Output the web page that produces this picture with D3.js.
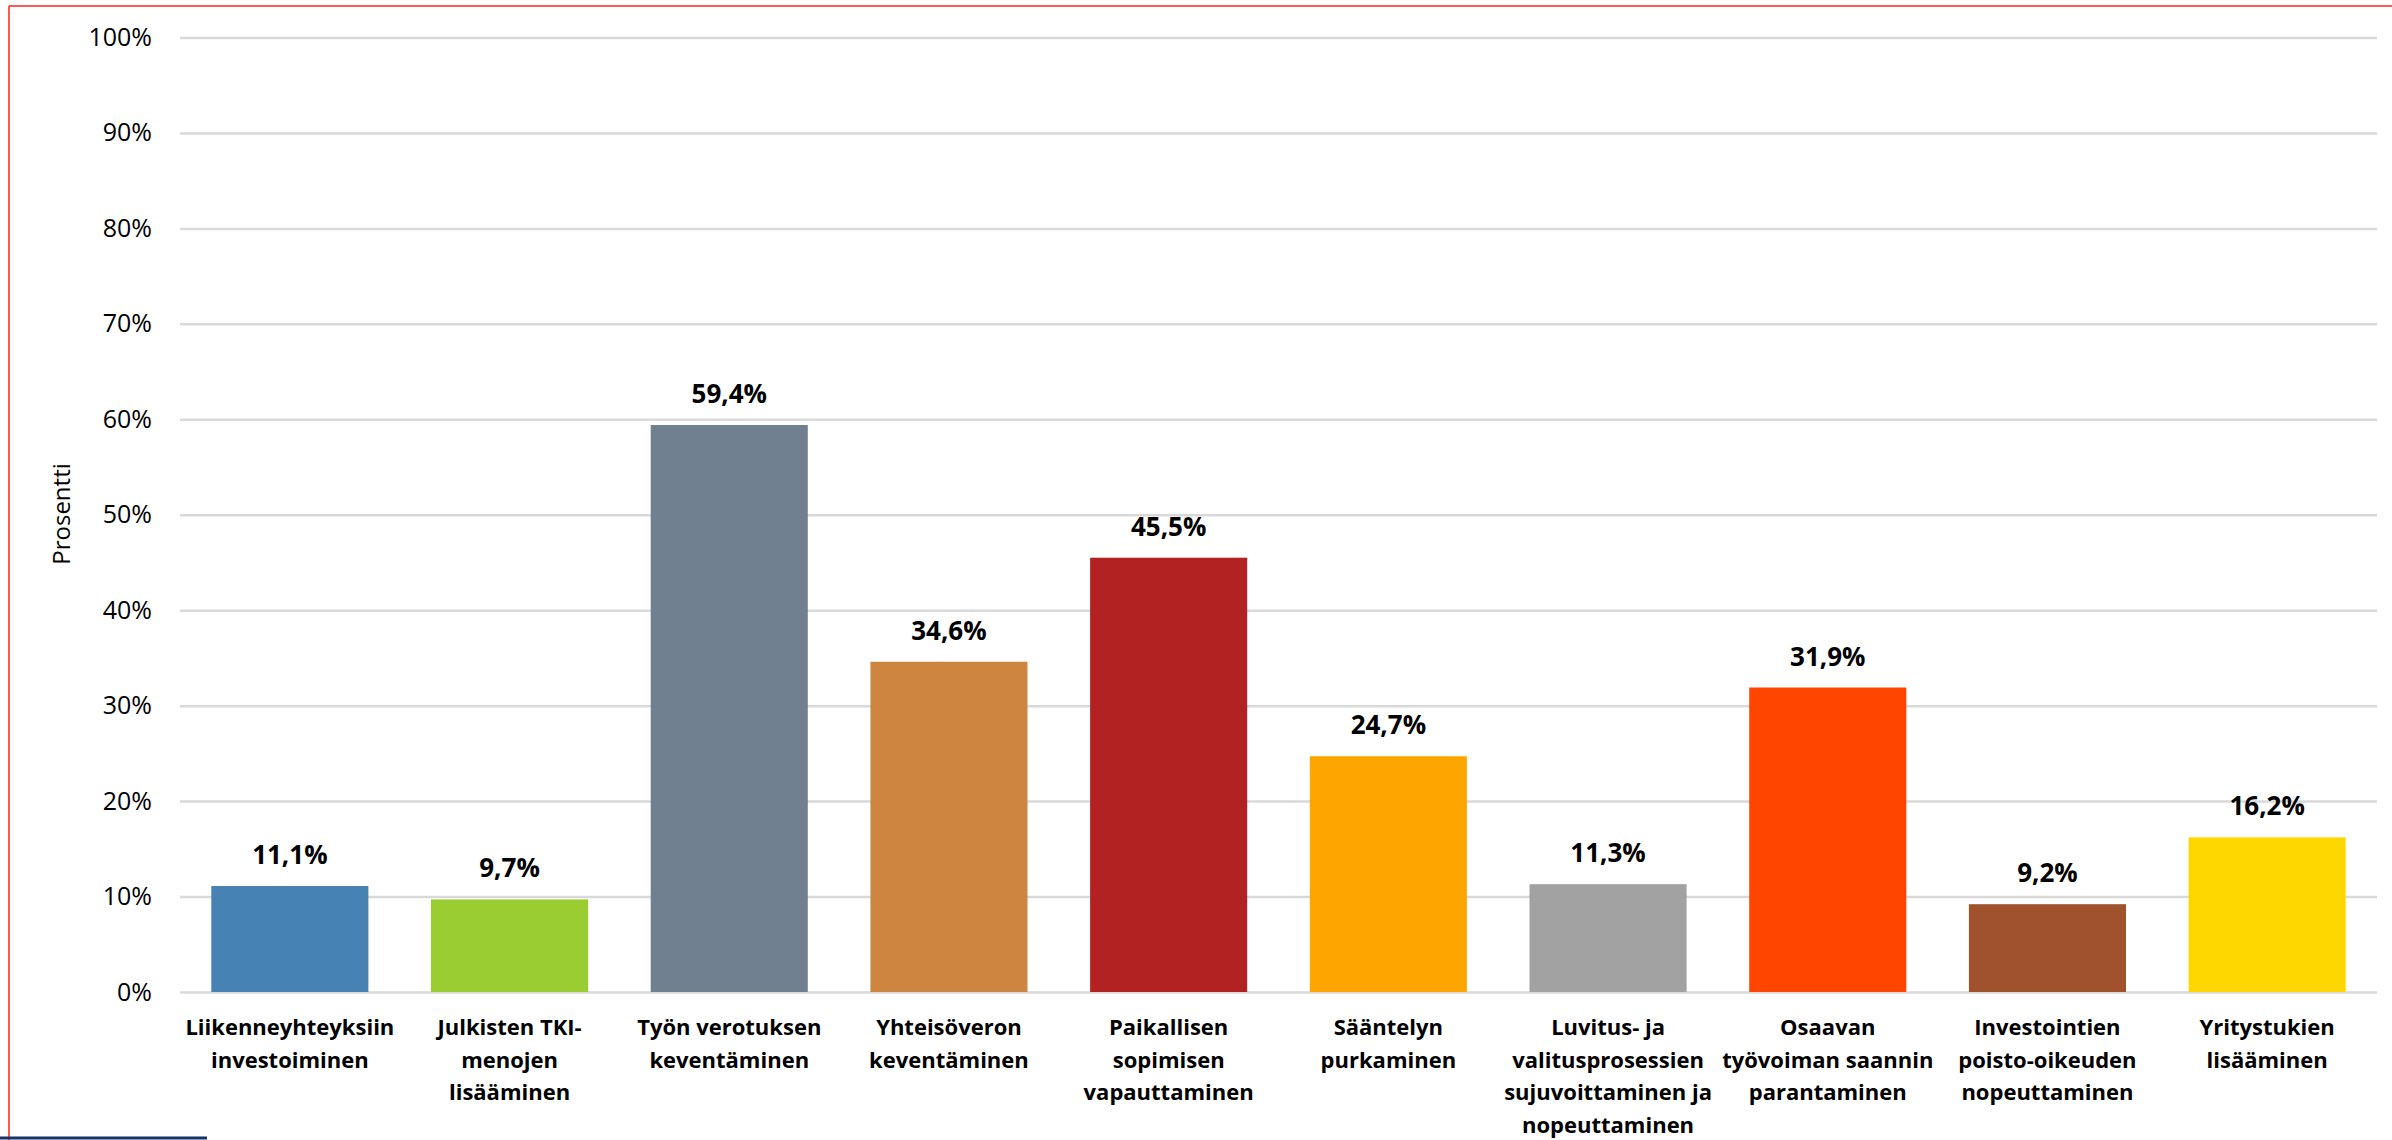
<!DOCTYPE html>
<html lang="fi">
<head>
    <meta charset="UTF-8">
    <title>Prosentti</title>
    <script src="https://cdn.jsdelivr.net/npm/d3@7"></script>
    <style>
        body { margin: 0; background: #fff; }
        svg { display: block; font-family: "Open Sans", sans-serif; }
    </style>
</head>
<body>
    <div id="chart"></div>
    <script>
        // data
        const categories = [
            "Liikenneyhteyksiin investoiminen",
            "Julkisten TKI-menojen lisääminen",
            "Työn verotuksen keventäminen",
            "Yhteisöveron keventäminen",
            "Paikallisen sopimisen vapauttaminen",
            "Sääntelyn purkaminen",
            "Luvitus- ja valitusprosessien sujuvoittaminen ja nopeuttaminen",
            "Osaavan työvoiman saannin parantaminen",
            "Investointien poisto-oikeuden nopeuttaminen",
            "Yritystukien lisääminen"
        ];
        // line breaks of the category labels
        const categoryLines = [
            ["Liikenneyhteyksiin", "investoiminen"],
            ["Julkisten TKI-", "menojen", "lisääminen"],
            ["Työn verotuksen", "keventäminen"],
            ["Yhteisöveron", "keventäminen"],
            ["Paikallisen", "sopimisen", "vapauttaminen"],
            ["Sääntelyn", "purkaminen"],
            ["Luvitus- ja", "valitusprosessien", "sujuvoittaminen ja", "nopeuttaminen"],
            ["Osaavan", "työvoiman saannin", "parantaminen"],
            ["Investointien", "poisto-oikeuden", "nopeuttaminen"],
            ["Yritystukien", "lisääminen"]
        ];
        const values = [11.1, 9.7, 59.4, 34.6, 45.5, 24.7, 11.3, 31.9, 9.2, 16.2];
        const valueLabels = ["11,1%", "9,7%", "59,4%", "34,6%", "45,5%", "24,7%", "11,3%", "31,9%", "9,2%", "16,2%"];
        const colors = ["#4682B4", "#9ACD32", "#708090", "#CD853F", "#B22222",
                        "#FFA500", "#A2A2A2", "#FF4500", "#A0522D", "#FFD700"];
        const yTicks = [0, 10, 20, 30, 40, 50, 60, 70, 80, 90, 100];
        const yTickLabels = ["0%", "10%", "20%", "30%", "40%", "50%", "60%", "70%", "80%", "90%", "100%"];

        const W = 2392, H = 1140;
        const margin = { top: 37.5, right: 15, bottom: 148, left: 180 };
        const width = W - margin.left - margin.right;
        const height = H - margin.top - margin.bottom;

        const root = d3.select("#chart")
            .append("svg")
            .attr("width", W)
            .attr("height", H);

        // frame lines
        root.append("line")
            .attr("x1", 9).attr("x2", W).attr("y1", 6).attr("y2", 6)
            .attr("stroke", "#ff2020").attr("stroke-width", 1.5);
        root.append("line")
            .attr("x1", 9).attr("x2", 9).attr("y1", 6).attr("y2", H)
            .attr("stroke", "#ff2020").attr("stroke-width", 1.5);
        root.append("line")
            .attr("x1", 0).attr("x2", 207).attr("y1", 1138).attr("y2", 1138)
            .attr("stroke", "#17336b").attr("stroke-width", 3);

        const svg = root.append("g")
            .attr("transform", `translate(${margin.left},${margin.top})`);

        // scales
        const x = d3.scaleBand()
            .domain(categories)
            .range([0, width])
            .paddingInner(0.285)
            .paddingOuter(0.1425);

        const y = d3.scaleLinear()
            .domain([0, 100])
            .range([height, 0]);

        // y axis + gridlines
        const yAxis = svg.append("g")
            .call(d3.axisLeft(y)
                .tickValues(yTicks)
                .tickSize(-width)
                .tickPadding(28)
                .tickFormat((d, i) => yTickLabels[i]));
        yAxis.select(".domain").remove();
        yAxis.selectAll(".tick line")
            .attr("stroke", "#d9d9d9")
            .attr("stroke-width", 2.5);
        yAxis.selectAll(".tick text")
            .attr("fill", "#000")
            .style("font-size", "25px")
            .style("font-family", "'Open Sans', sans-serif");

        // y title
        svg.append("text")
            .attr("transform", "rotate(-90)")
            .attr("x", -(514 - margin.top))
            .attr("y", 70 - margin.left)
            .style("text-anchor", "middle")
            .style("font-size", "24px")
            .text("Prosentti");

        // bars
        svg.selectAll(".bar")
            .data(values)
            .enter().append("rect")
            .attr("class", "bar")
            .attr("x", (d, i) => x(categories[i]))
            .attr("width", x.bandwidth())
            .attr("y", d => y(d))
            .attr("height", d => height - y(d))
            .attr("fill", (d, i) => colors[i]);

        // value labels
        svg.selectAll(".val")
            .data(values)
            .enter().append("text")
            .attr("class", "val")
            .attr("x", (d, i) => x(categories[i]) + x.bandwidth() / 2)
            .attr("y", d => y(d) - 22)
            .style("text-anchor", "middle")
            .style("font-size", "26px")
            .style("font-weight", "bold")
            .text((d, i) => valueLabels[i]);

        // x axis with wrapped labels
        const xAxis = svg.append("g")
            .attr("transform", `translate(0,${height})`)
            .call(d3.axisBottom(x).tickSize(0));
        xAxis.select(".domain").remove();
        xAxis.selectAll(".tick text").each(function(d) {
            const t = d3.select(this).text(null).attr("y", 0).attr("dy", null)
                .attr("fill", "#000")
                .style("font-size", "22px")
                .style("font-weight", "bold")
                .style("font-family", "'Open Sans', sans-serif");
            categoryLines[categories.indexOf(d)].forEach((line, k) => {
                t.append("tspan")
                    .attr("x", 0)
                    .attr("y", 43 + k * 32.5)
                    .text(line);
            });
        });
    </script>
</body>
</html>
